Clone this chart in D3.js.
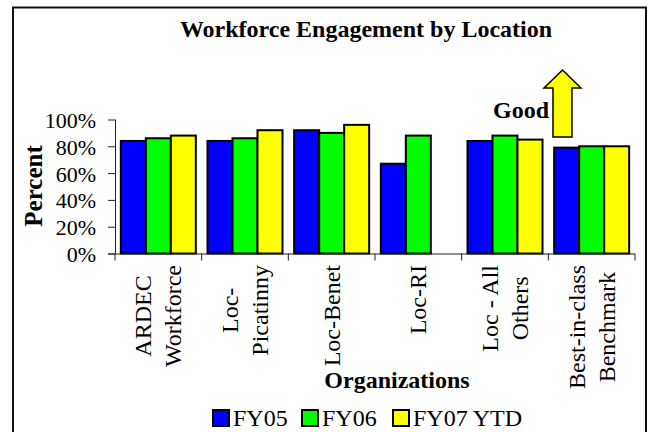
<!DOCTYPE html>
<html>
<head>
<meta charset="utf-8">
<script src="https://cdn.jsdelivr.net/npm/d3@7"></script>
<style>
  body { margin: 0; background: #fff; }
  svg text { font-family: "Liberation Serif", "Times New Roman", serif; fill: #000; }
</style>
</head>
<body>
<div id="chart"></div>
<script>
var width = 649,
    height = 432;

// chart values
var categories = [["ARDEC", "Workforce"], ["Loc-", "Picatinny"], ["Loc-Benet"], ["Loc-RI"], ["Loc - All", "Others"], ["Best-in-class", "Benchmark"]];
var seriesNames = ["FY05", "FY06", "FY07 YTD"];
var fy05 = [84, 84, 92, 67, 84, 79];
var fy06 = [86, 86, 90, 88, 88, 80];
var fy07 = [88, 92, 96, null, 85, 80];
var yTicks = [0, 20, 40, 60, 80, 100];
var colors = ["#0000ff", "#00ff00", "#ffff00"];

var values = [fy05, fy06, fy07];

var svg = d3.select("#chart")
  .append("svg")
  .attr("width", width)
  .attr("height", height);

// outer frame (bottom edge runs off the picture)
svg.append("rect")
  .attr("x", 13)
  .attr("y", 7.5)
  .attr("width", 633)
  .attr("height", 460)
  .attr("fill", "none")
  .attr("stroke", "#111")
  .attr("stroke-width", 2);

var plotLeft = 115, plotRight = 635, plotTop = 119.5, plotBottom = 253.5;

var x0 = d3.scaleBand()
  .domain(d3.range(categories.length))
  .range([plotLeft, plotRight]);

var x1 = d3.scaleBand()
  .domain(d3.range(seriesNames.length))
  .range([0, x0.bandwidth()])
  .paddingOuter(0.233);

var y = d3.scaleLinear()
  .domain([0, 100])
  .range([plotBottom, plotTop]);

// bars
var groups = svg.selectAll("g.cat")
  .data(categories)
  .enter()
  .append("g")
  .attr("class", "cat")
  .attr("transform", function(d, i) { return "translate(" + x0(i) + ",0)"; });

groups.selectAll("rect")
  .data(function(d, i) {
    return values.map(function(s, j) { return { s: j, v: s[i] }; }).filter(function(e) { return e.v != null; });
  })
  .enter()
  .append("rect")
  .attr("x", function(d) { return x1(d.s); })
  .attr("y", function(d) { return y(d.v); })
  .attr("width", x1.bandwidth())
  .attr("height", function(d) { return plotBottom - y(d.v); })
  .attr("fill", function(d) { return colors[d.s]; })
  .attr("stroke", "#000")
  .attr("stroke-width", 2);

// y axis
var yAxis = svg.append("g")
  .attr("transform", "translate(" + plotLeft + ",0)")
  .call(d3.axisLeft(y).tickValues(yTicks).tickSize(7).tickPadding(12).tickFormat(function(d) { return d + "%"; }));
yAxis.selectAll("text")
  .style("font-family", "Liberation Serif")
  .style("font-size", "22px")
  .attr("dy", "0.36em");
yAxis.selectAll("line, path").attr("stroke", "#222");
yAxis.select(".domain").attr("d", "M0.5," + plotTop + "V" + plotBottom);

// x axis: ticks between categories
var xAxis = svg.append("g");
xAxis.append("line")
  .attr("x1", plotLeft - 7).attr("x2", plotRight)
  .attr("y1", plotBottom + 0.5).attr("y2", plotBottom + 0.5)
  .attr("stroke", "#222");
xAxis.selectAll("line.tk")
  .data(d3.range(categories.length + 1))
  .enter()
  .append("line")
  .attr("class", "tk")
  .attr("x1", function(d) { return plotLeft + d * x0.bandwidth(); })
  .attr("x2", function(d) { return plotLeft + d * x0.bandwidth(); })
  .attr("y1", plotBottom)
  .attr("y2", plotBottom + 7)
  .attr("stroke", "#222");

// rotated category labels, lines centred, block tops aligned under the axis
var lineH = 30, labFs = 24, labTop = 265;
var labels = svg.selectAll("g.lab")
  .data(categories)
  .enter()
  .append("g")
  .attr("class", "lab")
  .attr("transform", function(d, i) { return "translate(" + (x0(i) + x0.bandwidth() / 2) + "," + labTop + ") rotate(-90)"; });

labels.each(function(lines) {
  var g = d3.select(this);
  var texts = g.selectAll("text")
    .data(lines)
    .enter()
    .append("text")
    .style("font-size", labFs + "px")
    .attr("text-anchor", "middle")
    .attr("y", function(d, k) { return (k - (lines.length - 1) / 2) * lineH + labFs * 0.33; })
    .text(function(d) { return d; });
  var maxLen = 0;
  texts.each(function() { maxLen = Math.max(maxLen, this.getComputedTextLength()); });
  texts.attr("x", -maxLen / 2);
});

// titles
svg.append("text")
  .attr("x", 366)
  .attr("y", 37)
  .attr("text-anchor", "middle")
  .style("font-size", "24px")
  .style("font-weight", "bold")
  .text("Workforce Engagement by Location");

svg.append("text")
  .attr("transform", "translate(41.5,186) rotate(-90)")
  .attr("text-anchor", "middle")
  .style("font-size", "25px")
  .style("font-weight", "bold")
  .text("Percent");

svg.append("text")
  .attr("x", 397)
  .attr("y", 388)
  .attr("text-anchor", "middle")
  .style("font-size", "24px")
  .style("font-weight", "bold")
  .text("Organizations");

// "Good" arrow
svg.append("text")
  .attr("x", 549)
  .attr("y", 118)
  .attr("text-anchor", "end")
  .style("font-size", "24px")
  .style("font-weight", "bold")
  .text("Good");

svg.append("path")
  .attr("d", d3.line()([[562.5, 70], [581, 88], [572, 88], [572, 137], [553, 137], [553, 88], [544, 88]]) + "Z")
  .attr("fill", "#ffff00")
  .attr("stroke", "#000")
  .attr("stroke-width", 1.5);

// legend
var legendX = [213, 302, 393];
var legend = svg.selectAll("g.leg")
  .data(seriesNames)
  .enter()
  .append("g")
  .attr("class", "leg")
  .attr("transform", function(d, i) { return "translate(" + legendX[i] + ",410)"; });

legend.append("rect")
  .attr("width", 16)
  .attr("height", 16)
  .attr("fill", function(d, i) { return colors[i]; })
  .attr("stroke", "#000")
  .attr("stroke-width", 2);

legend.append("text")
  .attr("x", 20)
  .attr("y", 16)
  .style("font-size", "24px")
  .text(function(d) { return d; });
</script>
</body>
</html>
